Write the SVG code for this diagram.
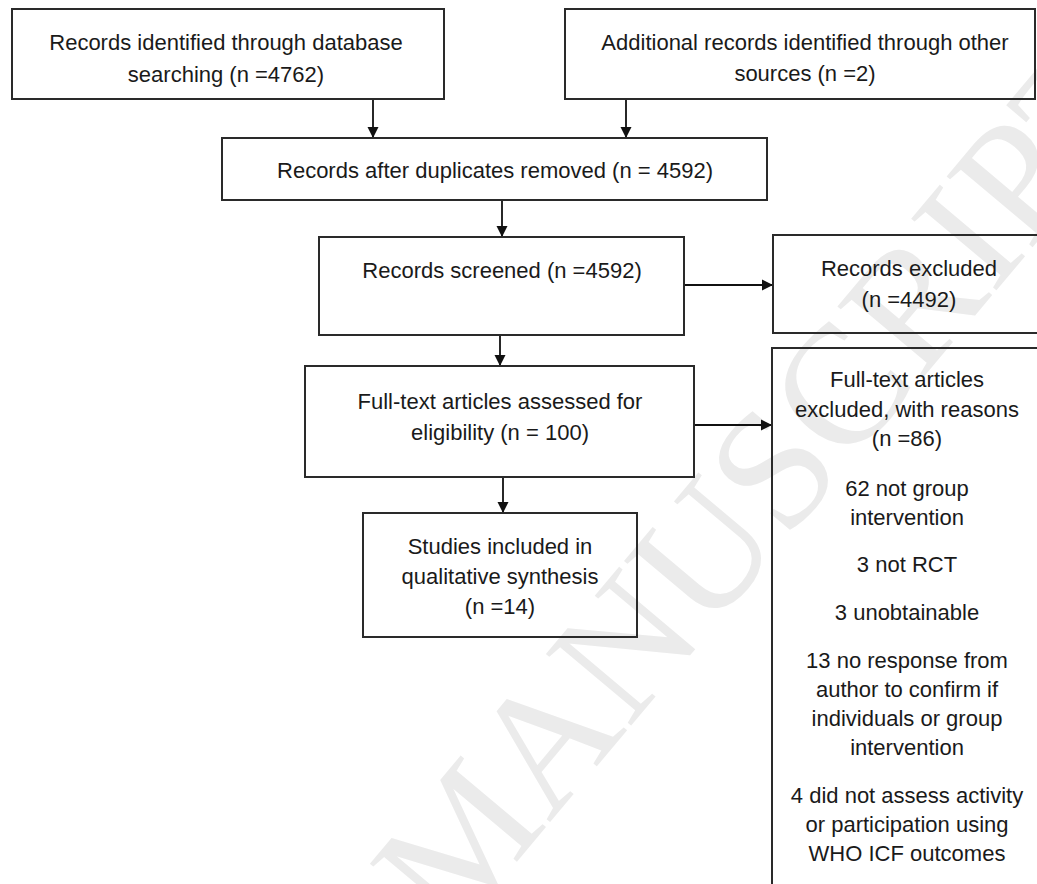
<svg xmlns="http://www.w3.org/2000/svg" width="1037" height="884" viewBox="0 0 1037 884">
<style>
.box{fill:none;stroke:#2a2a2a;stroke-width:2}
.t{font-family:"Liberation Sans",Arial,sans-serif;font-size:22px;fill:#1a1a1a;text-anchor:middle}
.c{stroke:#111;stroke-width:1.8;fill:none}
.wm{font-family:"Liberation Serif","Times New Roman",serif;font-size:170px;fill:#ebebeb}
</style>
<defs>
<marker id="ah" markerUnits="userSpaceOnUse" markerWidth="12" markerHeight="12" refX="11" refY="6" orient="auto">
<path d="M0,0.5 L11,6 L0,11.5 z" fill="#111"/>
</marker>
</defs>
<rect width="1037" height="884" fill="#fff"/>
<text class="wm" transform="translate(452,939) rotate(-50)" x="-921">ACCEPTED MANUSCRIPT</text>
<g id="connectors">
<line class="c" x1="373" y1="99" x2="373" y2="138" marker-end="url(#ah)"/>
<line class="c" x1="626" y1="99" x2="626" y2="138" marker-end="url(#ah)"/>
<line class="c" x1="502" y1="200" x2="502" y2="237" marker-end="url(#ah)"/>
<line class="c" x1="500" y1="335" x2="500" y2="366" marker-end="url(#ah)"/>
<line class="c" x1="684" y1="285" x2="773" y2="285" marker-end="url(#ah)"/>
<line class="c" x1="503" y1="477" x2="503" y2="513" marker-end="url(#ah)"/>
<line class="c" x1="694" y1="425" x2="772" y2="425" marker-end="url(#ah)"/>
</g>
<g id="n1">
<rect class="box" x="12" y="9" width="432" height="90"/>
<text class="t" x="226" y="50">Records identified through database</text>
<text class="t" x="226" y="82">searching (n =4762)</text>
</g>
<g id="n2">
<rect class="box" x="565" y="9" width="470" height="90"/>
<text class="t" x="805" y="50">Additional records identified through other</text>
<text class="t" x="805" y="81">sources (n =2)</text>
</g>
<g id="n3">
<rect class="box" x="222" y="138" width="545" height="62"/>
<text class="t" x="495" y="178">Records after duplicates removed (n = 4592)</text>
</g>
<g id="n4">
<rect class="box" x="319" y="237" width="365" height="98"/>
<text class="t" x="502" y="278">Records screened (n =4592)</text>
</g>
<g id="n5">
<rect class="box" x="773" y="235" width="272" height="98"/>
<text class="t" x="909" y="276">Records excluded</text>
<text class="t" x="909" y="307">(n =4492)</text>
</g>
<g id="n6">
<rect class="box" x="305" y="366" width="389" height="111"/>
<text class="t" x="500" y="409">Full-text articles assessed for</text>
<text class="t" x="500" y="440">eligibility (n = 100)</text>
</g>
<g id="n7">
<rect class="box" x="772" y="348" width="272" height="560"/>
<text class="t" x="907" y="387">Full-text articles</text>
<text class="t" x="907" y="417">excluded, with reasons</text>
<text class="t" x="907" y="446">(n =86)</text>
<text class="t" x="907" y="496">62 not group</text>
<text class="t" x="907" y="525">intervention</text>
<text class="t" x="907" y="572">3 not RCT</text>
<text class="t" x="907" y="620">3 unobtainable</text>
<text class="t" x="907" y="668">13 no response from</text>
<text class="t" x="907" y="697">author to confirm if</text>
<text class="t" x="907" y="726">individuals or group</text>
<text class="t" x="907" y="755">intervention</text>
<text class="t" x="907" y="803">4 did not assess activity</text>
<text class="t" x="907" y="832">or participation using</text>
<text class="t" x="907" y="861">WHO ICF outcomes</text>
</g>
<g id="n8">
<rect class="box" x="363" y="513" width="274" height="124"/>
<text class="t" x="500" y="554">Studies included in</text>
<text class="t" x="500" y="584">qualitative synthesis</text>
<text class="t" x="500" y="614">(n =14)</text>
</g>
</svg>
